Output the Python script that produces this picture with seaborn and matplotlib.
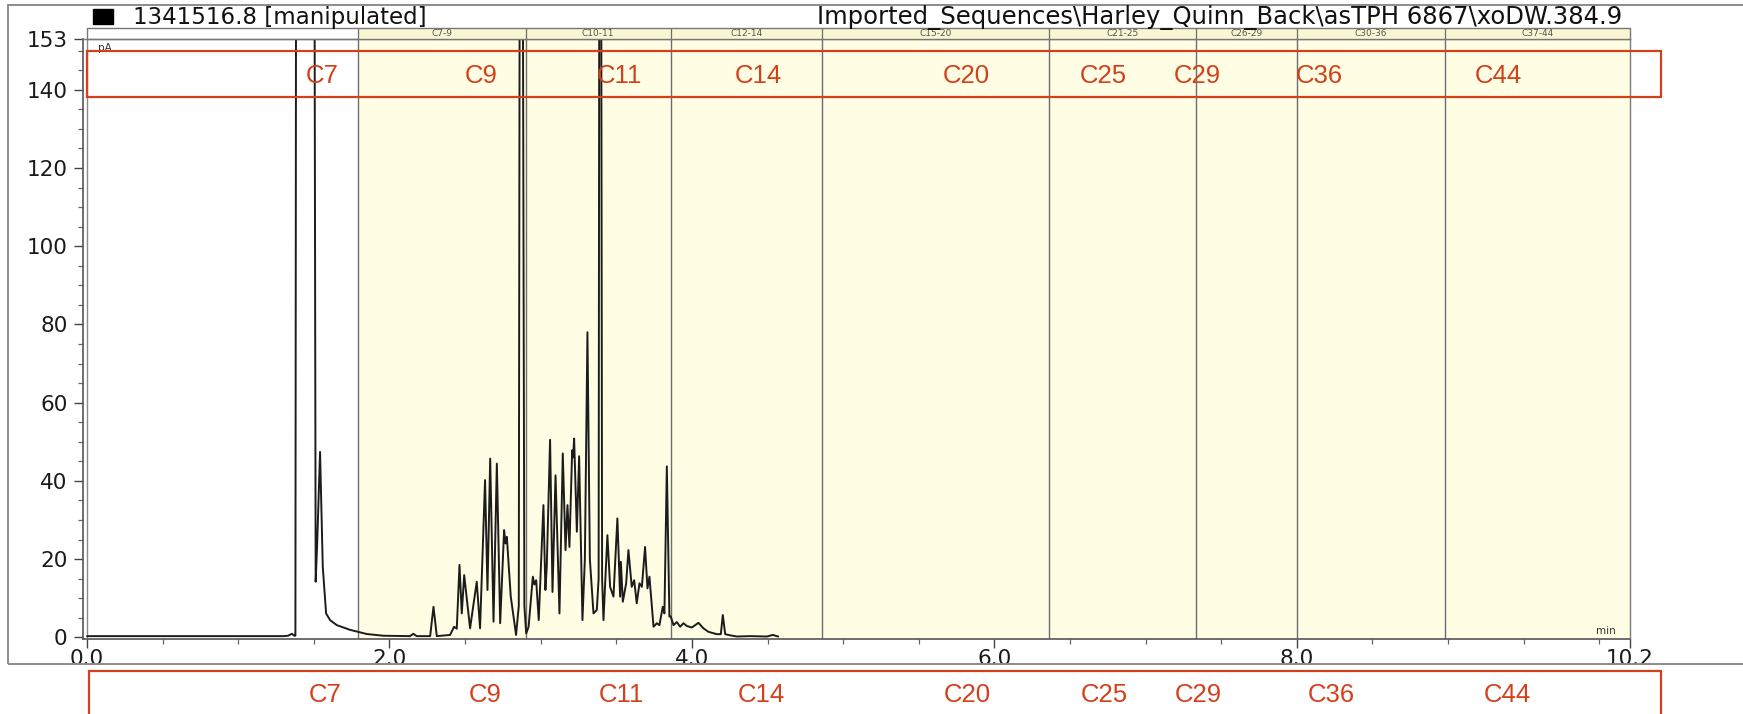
import matplotlib
matplotlib.use("Agg")
import numpy as np
import matplotlib.pyplot as plt
import matplotlib.transforms as mtrans
from matplotlib.patches import Rectangle
from matplotlib.ticker import FixedLocator
import seaborn as sns

# chromatogram trace: retention time (min) / signal (pA)
# (off-scale peaks given as 200, they get clipped at the 153 top)
rt = [0.00, 1.30, 1.33, 1.354, 1.372, 1.378, 1.383, 1.503, 1.512, 1.522,
      1.541, 1.559, 1.581, 1.607, 1.652, 1.74, 1.85, 1.96, 2.136, 2.158,
      2.18, 2.269, 2.291, 2.313, 2.401, 2.427, 2.445, 2.463, 2.478, 2.494,
      2.533, 2.577, 2.599, 2.632, 2.648, 2.666, 2.688, 2.71, 2.732, 2.758,
      2.767, 2.776, 2.802, 2.837, 2.855, 2.862, 2.880, 2.892, 2.904, 2.92,
      2.948, 2.958, 2.97, 2.987, 3.018, 3.031, 3.04, 3.062, 3.078, 3.098,
      3.124, 3.146, 3.164, 3.177, 3.19, 3.208, 3.214, 3.221, 3.239, 3.254,
      3.276, 3.292, 3.309, 3.325, 3.349, 3.371, 3.383, 3.388, 3.399, 3.406,
      3.415, 3.441, 3.459, 3.481, 3.507, 3.525, 3.53, 3.543, 3.565, 3.58,
      3.602, 3.618, 3.635, 3.653, 3.669, 3.69, 3.706, 3.719, 3.746, 3.768,
      3.785, 3.807, 3.818, 3.834, 3.851, 3.86, 3.878, 3.9, 3.922, 3.944,
      3.966, 3.999, 4.043, 4.076, 4.109, 4.164, 4.191, 4.204, 4.22, 4.253,
      4.297, 4.385, 4.495, 4.535, 4.57]
pa = [0.3, 0.3, 0.4, 0.9, 0.4, 0.4, 200, 200, 14.2, 24,
      47.4, 18, 6.1, 4.4, 3.1, 1.9, 0.84, 0.4, 0.3, 0.9,
      0.3, 0.3, 7.8, 0.3, 0.6, 2.7, 2.2, 18.5, 6.1, 15.9,
      2.3, 14.2, 2.3, 40.2, 12.1, 45.7, 4.0, 44.4, 3.6, 27.4,
      24, 25.7, 10.4, 0.6, 8, 200, 200, 8, 1.0, 2.7,
      15.5, 13.5, 14.6, 4.4, 33.8, 12.1, 18, 50.5, 11.6, 41.4,
      6.1, 47, 22.3, 33.8, 23.1, 47.8, 46, 50.8, 27, 46.3,
      4.4, 20, 78, 20, 6.1, 7, 15, 200, 200, 15,
      4.4, 26.1, 12.9, 10.4, 30.4, 10.4, 19.3, 9.1, 13.8, 22.3,
      12.9, 14.6, 8.7, 13.8, 12.9, 23.1, 12.5, 15.5, 2.7, 3.6,
      3.1, 7.8, 6.1, 43.7, 5.3, 5.3, 3.1, 3.9, 2.7, 3.6,
      2.9, 2.5, 3.7, 2.3, 1.4, 0.8, 0.8, 5.7, 0.8, 0.5,
      0.2, 0.3, 0.2, 0.6, 0.2]

# carbon-range windows
region_names = ["C7-9", "C10-11", "C12-14", "C15-20", "C21-25", "C26-29", "C30-36", "C37-44"]
region_starts = [1.79, 2.90, 3.86, 4.863, 6.36, 7.33, 8.00, 8.98]
run_end = 10.2

# red marker labels (retention time of each label)
marker_names = ["C7", "C9", "C11", "C14", "C20", "C25", "C29", "C36", "C44"]
marker_rt_top = [1.557, 2.609, 3.52, 4.44, 5.816, 6.72, 7.34, 8.15, 9.33]
marker_rt_bottom = [1.572, 2.63, 3.535, 4.462, 5.823, 6.727, 7.35, 8.23, 9.39]

x_major = [0.0, 2.0, 4.0, 6.0, 8.0, 10.2]
x_labels = ["0.0", "2.0", "4.0", "6.0", "8.0", "10.2"]
y_major = [0, 20, 40, 60, 80, 100, 120, 140, 153]

title_left = "1341516.8 [manipulated]"
title_right = r"Imported_Sequences\Harley_Quinn_Back\asTPH 6867\xoDW.384.9"

sns.set_style("white")
plt.rcParams["font.family"] = ["DejaVu Sans"]

W, H = 1743, 714
fig = plt.figure(figsize=(W / 100, H / 100), dpi=100)


def fx(px):
    return px / W


def fy(py):
    return 1 - py / H


yellow = "#fffde4"
head_yellow = "#faf6d2"
red = "#d2401c"
grid_grey = "#6e6e6e"

px_per_min = (1629.6 - 87) / 10.2
px_per_pa = (637.3 - 38.9) / 153

ax = fig.add_axes([fx(82.7), fy(639.3), fx(1629.6) - fx(82.7), fy(38.9) - fy(639.3)])
ax.set_xlim(-4.3 / px_per_min, run_end)
ax.set_ylim(-2.0 / px_per_pa, 153)
ax.set_facecolor("white")

ends = region_starts[1:] + [run_end]
for s, e in zip(region_starts, ends):
    ax.axvspan(s, e, ymin=0, ymax=1, color=yellow, lw=0, zorder=0)
    ax.axvline(s, color=grid_grey, lw=1.0, zorder=1)
ax.plot([0, 0], [-2.0 / px_per_pa, 153], color="#8a8a8a", lw=1.0, zorder=1)

sns.lineplot(x=rt, y=pa, ax=ax, color="#1c1c1c", lw=1.4, sort=False,
             estimator=None, zorder=3)

ax.set_xticks(x_major)
ax.set_xticklabels(x_labels)
ax.xaxis.set_minor_locator(FixedLocator([v for v in np.arange(0.5, 10.01, 0.5) if v not in x_major]))
ax.set_yticks(y_major)
ax.yaxis.set_minor_locator(FixedLocator([v for v in range(5, 151, 5) if v not in y_major]))
ax.tick_params(which="major", direction="out", length=6.5, width=1, color="#444",
               labelsize=15.5, labelcolor="#1a1a1a")
ax.tick_params(which="minor", direction="out", length=3.6, width=0.9, color="#666")
ax.tick_params(axis="x", which="major", pad=0.5)
ax.tick_params(axis="y", which="major", pad=4.5)
ax.tick_params(bottom=True, left=True, which="both")
for side in ["left", "bottom"]:
    ax.spines[side].set_color("#555")
    ax.spines[side].set_linewidth(1.2)
for side in ["top", "right"]:
    ax.spines[side].set_color("#7a7a7a")
    ax.spines[side].set_linewidth(1.0)
ax.set_xlabel("")
ax.set_ylabel("")

# header strip with the window names
hax = fig.add_axes([fx(82.7), fy(38.9), fx(1629.6) - fx(82.7), fy(28.3) - fy(38.9)])
hax.set_xlim(ax.get_xlim())
hax.set_ylim(0, 1)
hax.axis("off")
for name, s, e in zip(region_names, region_starts, ends):
    hax.axvspan(s, e, color=head_yellow, lw=0)
    hax.plot([s, s], [0, 1], color=grid_grey, lw=0.9)
    hax.text((s + e) / 2, 0.5, name, ha="center", va="center", fontsize=6.5, color="#555")
hax.plot([0, run_end, run_end, 0, 0], [0, 0, 1, 1, 0], color="#777", lw=1.0, clip_on=False)

# titles
fig.patches.append(Rectangle((fx(93), fy(24)), 20 / W, 15 / H, transform=fig.transFigure,
                             color="black", zorder=4))
fig.text(fx(133), fy(24), title_left, fontsize=16.5, color="#111", va="baseline")
fig.text(fx(1622), fy(24), title_right, fontsize=17.5, color="#111", va="baseline", ha="right")
fig.text(fx(98), fy(48), "pA", fontsize=7.5, color="#333", va="center")
fig.text(fx(1606), fy(631), "min", fontsize=7.5, color="#333", ha="center", va="center")

# outer frame of the chromatogram
fig.patches.append(Rectangle((fx(8), fy(664)), 1.2, (664 - 5) / H, transform=fig.transFigure,
                             fill=False, edgecolor="#8c8c8c", lw=1.4, zorder=2))

# red marker boxes and labels
fig.patches.append(Rectangle((fx(86.7), fy(96.7)), (1660.7 - 86.7) / W, (96.7 - 51.5) / H,
                             transform=fig.transFigure, fill=False, edgecolor=red, lw=1.6, zorder=6))
fig.patches.append(Rectangle((fx(89), fy(730)), (1660.7 - 89) / W, (730 - 670.7) / H,
                             transform=fig.transFigure, fill=False, edgecolor=red, lw=1.6, zorder=6))
blend = mtrans.blended_transform_factory(ax.transData, fig.transFigure)
for name, t in zip(marker_names, marker_rt_top):
    fig.text(t, fy(76), name, transform=blend, ha="center", va="center", fontsize=18.5,
             color=red, family=["Liberation Sans", "DejaVu Sans"], zorder=6)
for name, t in zip(marker_names, marker_rt_bottom):
    fig.text(t, fy(695), name, transform=blend, ha="center", va="center", fontsize=18.5,
             color=red, family=["Liberation Sans", "DejaVu Sans"], zorder=6)

fig.savefig("out.png", dpi=100, facecolor="white")
